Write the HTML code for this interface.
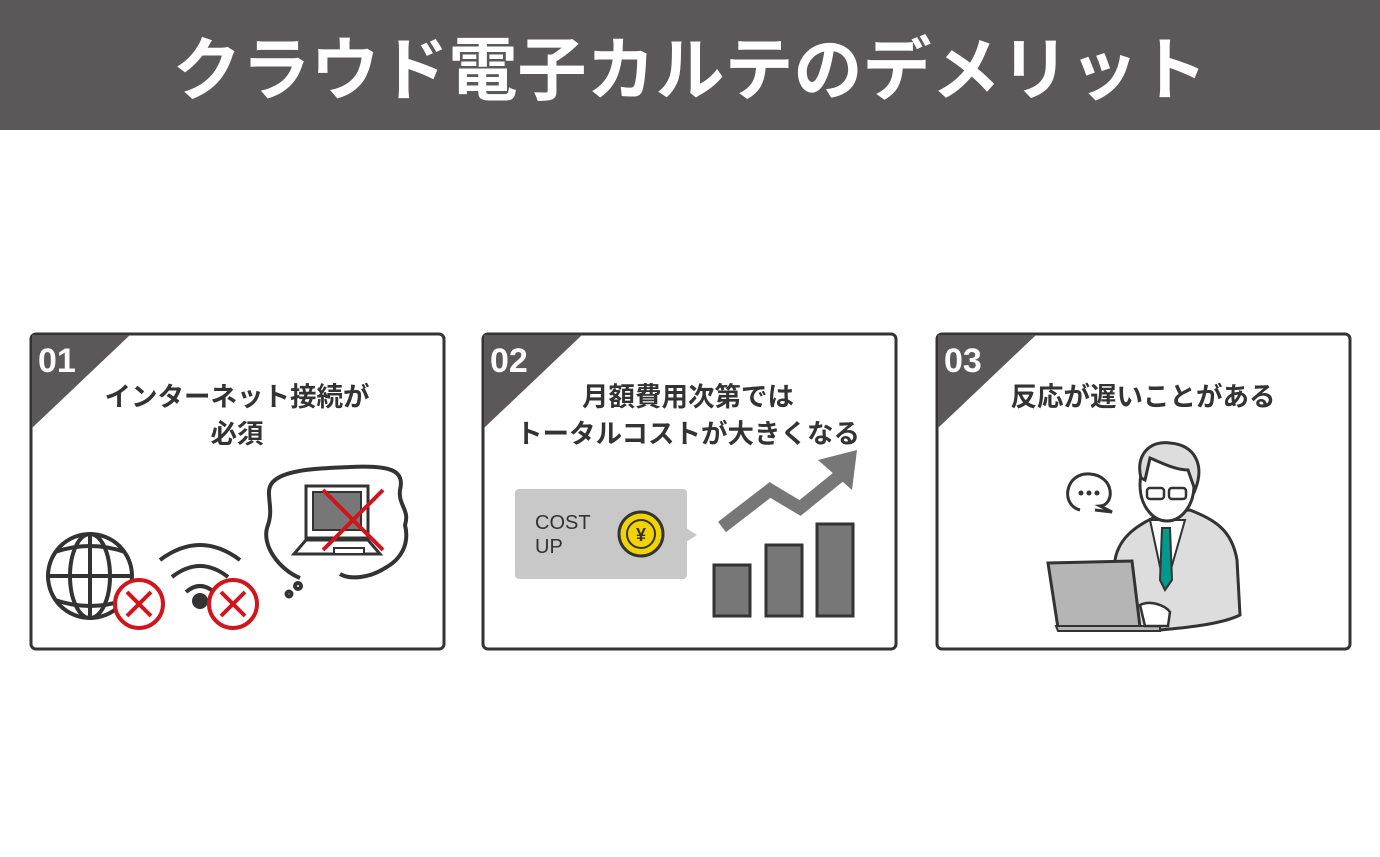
<!DOCTYPE html>
<html><head><meta charset="utf-8"><style>
body{margin:0;width:1380px;height:852px;background:#fff;overflow:hidden;font-family:"Liberation Sans","Noto Sans CJK JP",sans-serif}
</style></head><body>
<svg width="1380" height="852" xmlns="http://www.w3.org/2000/svg" font-family="Liberation Sans, Noto Sans CJK JP, sans-serif">
<rect x="0" y="0" width="1380" height="130" fill="#5a5858"/>
<text x="690" y="94" fill="#fff" font-size="69" font-weight="bold" text-anchor="middle" font-family="Noto Sans CJK JP, sans-serif">クラウド電子カルテのデメリット</text>

<g stroke="#333" stroke-width="3" fill="#fff">
<rect x="31" y="334" width="413" height="315" rx="5"/>
<rect x="483" y="334" width="413" height="315" rx="5"/>
<rect x="937" y="334" width="413" height="315" rx="5"/>
</g>
<g fill="#5a5858">
<path d="M32 335 H130 L32 428 Z"/>
<path d="M484 335 H582 L484 428 Z"/>
<path d="M938 335 H1036 L938 428 Z"/>
</g>
<g fill="#fff" font-size="34" font-weight="bold">
<text x="38" y="372">01</text><text x="490" y="372">02</text><text x="944" y="372">03</text>
</g>
<g fill="#333" font-size="26.5" font-weight="bold" text-anchor="middle" font-family="Noto Sans CJK JP, sans-serif">
<text x="237" y="406">インターネット接続が</text>
<text x="237" y="443">必須</text>
<text x="688" y="406">月額費用次第では</text>
<text x="688" y="443">トータルコストが大きくなる</text>
<text x="1143" y="406">反応が遅いことがある</text>
</g>

<g fill="none" stroke="#333" stroke-width="4">
<circle cx="90" cy="576" r="42"/>
<ellipse cx="90" cy="576" rx="20" ry="42"/>
<line x1="90" y1="534" x2="90" y2="618"/>
<line x1="48" y1="576" x2="132" y2="576"/>
<path d="M55 552 Q90 540 125 552"/><path d="M55 600 Q90 612 125 600"/>
<path d="M160 560 Q200 530 240 560"/><path d="M172 577 Q200 555 228 577"/><path d="M186 592 Q200 580 214 592"/>
<path d="M300 578 C280 570 260 545 268 525 C275 505 262 490 275 480 C290 468 330 468 350 467 C390 465 405 470 400 490 C398 505 410 510 405 525 C410 545 400 560 385 568 C370 578 350 580 340 574"/>
<circle cx="289" cy="594" r="2.5"/><circle cx="298" cy="586" r="3"/>
</g>
<circle cx="200" cy="601" r="8" fill="#333"/>
<g fill="#fff" stroke="#d0161c" stroke-width="4">
<circle cx="139" cy="604" r="24"/><circle cx="233" cy="604" r="24"/>
</g>
<g stroke="#d0161c" stroke-width="4">
<path d="M127 592 L151 616 M151 592 L127 616"/><path d="M221 592 L245 616 M245 592 L221 616"/>
</g>
<rect x="306" y="486" width="62" height="52" fill="#fff" stroke="#333" stroke-width="3"/>
<rect x="313" y="492" width="48" height="38" fill="#777" stroke="#333" stroke-width="2"/>
<path d="M294 554 L306 540 H368 L380 554 Z" fill="#fff" stroke="#333" stroke-width="3"/>
<rect x="334" y="548" width="30" height="6" fill="#fff" stroke="#333" stroke-width="2"/>
<path d="M323 490 L383 550 M383 490 L323 550" stroke="#d0161c" stroke-width="4"/>

<rect x="515" y="489" width="172" height="90" rx="4" fill="#c8c8c8"/>
<path d="M686 528 L697 535 L686 542 Z" fill="#c8c8c8"/>
<text x="535" y="529" font-size="20" fill="#333">COST</text>
<text x="535" y="553" font-size="20" fill="#333">UP</text>
<circle cx="641" cy="534" r="22" fill="#f2d300" stroke="#333" stroke-width="3"/>
<circle cx="641" cy="534" r="14" fill="none" stroke="#333" stroke-width="2"/>
<text x="641" y="541" font-size="18" font-weight="bold" fill="#333" text-anchor="middle">¥</text>
<g fill="#777" stroke="#333" stroke-width="3">
<rect x="714" y="565" width="36" height="51"/><rect x="766" y="545" width="36" height="71"/><rect x="817" y="524" width="36" height="92"/>
</g>
<path d="M722 527 L770 490 L800 508 L842 474" fill="none" stroke="#777" stroke-width="13"/>
<path d="M857 450 L852 490 L818 460 Z" fill="#777"/>

<g fill="none" stroke="#333" stroke-width="3">
<path d="M1080 510 C1060 505 1065 472 1090 474 C1115 476 1115 505 1100 506 L1112 512 L1095 510"/>
</g>
<g fill="#333"><circle cx="1081" cy="493" r="2.5"/><circle cx="1089" cy="493" r="2.5"/><circle cx="1097" cy="493" r="2.5"/></g>
<path d="M1120 630 L1115 560 C1120 530 1150 520 1165 512 L1190 510 C1215 520 1232 530 1237 560 L1240 615 C1220 625 1180 628 1160 630 Z" fill="#ddd" stroke="#333" stroke-width="3"/>
<path d="M1150 520 L1165 590 L1185 520 Z" fill="#fff" stroke="#333" stroke-width="2"/>
<path d="M1162 528 L1170 528 L1172 580 L1165 590 L1160 580 Z" fill="#009a8c" stroke="#333" stroke-width="2"/>
<ellipse cx="1167" cy="485" rx="27" ry="36" fill="#fff" stroke="#333" stroke-width="3"/>
<path d="M1141 478 C1135 455 1150 440 1170 443 C1195 445 1205 465 1195 490 L1188 470 C1175 470 1160 462 1150 458 L1145 480 Z" fill="#ddd" stroke="#333" stroke-width="3"/>
<g fill="none" stroke="#333" stroke-width="2.5"><rect x="1147" y="488" width="17" height="11" rx="3"/><rect x="1169" y="488" width="17" height="11" rx="3"/></g>
<path d="M1048 563 L1132 561 L1140 627 L1058 628 Z" fill="#b5b5b5" stroke="#333" stroke-width="3"/>
<path d="M1056 626 H1160 V631 H1058 Z" fill="#b5b5b5" stroke="#333" stroke-width="2"/>
<path d="M1140 605 C1150 600 1165 605 1170 612 L1168 626 L1145 626 Z" fill="#fff" stroke="#333" stroke-width="2.5"/>
</svg>
</body></html>
